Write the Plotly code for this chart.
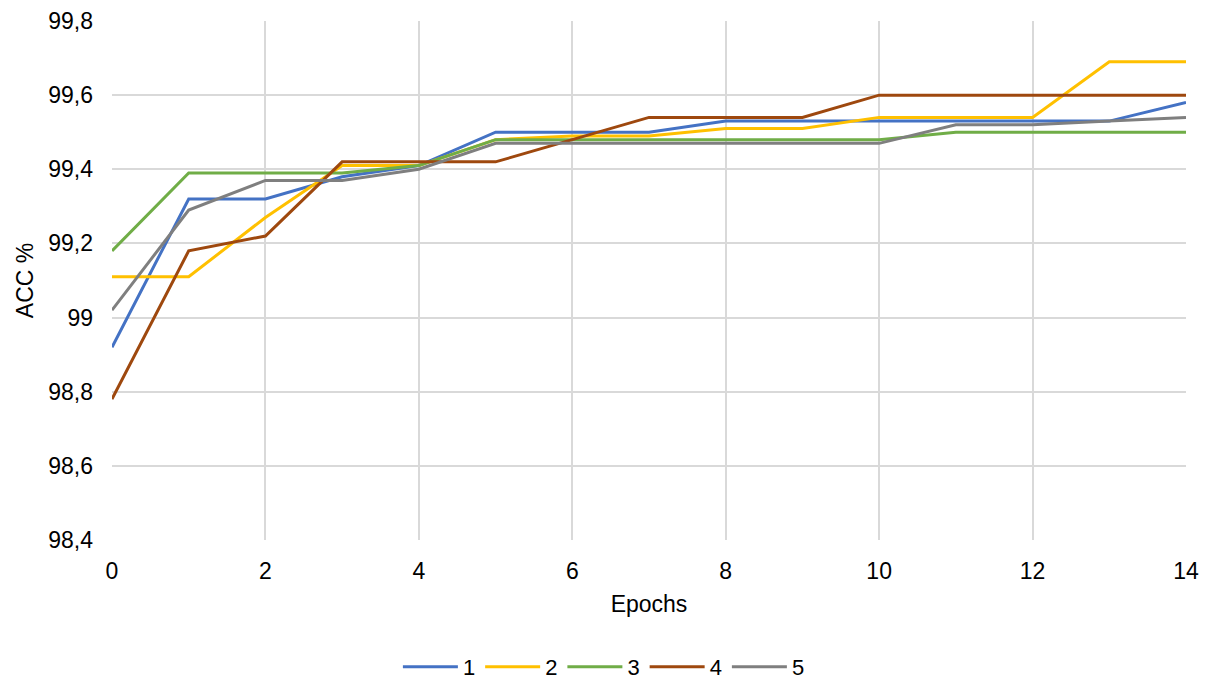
import plotly.graph_objects as go

epochs = list(range(15))

acc_1 = [98.92, 99.32, 99.32, 99.38, 99.41, 99.50, 99.50, 99.50, 99.53, 99.53, 99.53, 99.53, 99.53, 99.53, 99.58]
acc_2 = [99.11, 99.11, 99.27, 99.41, 99.41, 99.48, 99.49, 99.49, 99.51, 99.51, 99.54, 99.54, 99.54, 99.69, 99.69]
acc_3 = [99.18, 99.39, 99.39, 99.39, 99.41, 99.48, 99.48, 99.48, 99.48, 99.48, 99.48, 99.50, 99.50, 99.50, 99.50]
acc_4 = [98.78, 99.18, 99.22, 99.42, 99.42, 99.42, 99.48, 99.54, 99.54, 99.54, 99.60, 99.60, 99.60, 99.60, 99.60]
acc_5 = [99.02, 99.29, 99.37, 99.37, 99.40, 99.47, 99.47, 99.47, 99.47, 99.47, 99.47, 99.52, 99.52, 99.53, 99.54]

series_names = ["1", "2", "3", "4", "5"]
series_values = [acc_1, acc_2, acc_3, acc_4, acc_5]
series_colors = ["#4472C4", "#FFC000", "#70AD47", "#9E480E", "#7F7F7F"]

y_tickvals = [98.4, 98.6, 98.8, 99.0, 99.2, 99.4, 99.6, 99.8]
y_ticktext = ["98,4", "98,6", "98,8", "99", "99,2", "99,4", "99,6", "99,8"]
x_tickvals = [0, 2, 4, 6, 8, 10, 12, 14]

fig = go.Figure()
for name, vals, col in zip(series_names, series_values, series_colors):
    fig.add_trace(go.Scatter(
        x=epochs, y=vals, name=name, mode="lines",
        line=dict(color=col, width=3),
    ))

font_family = "Liberation Sans, Arial, sans-serif"
fig.update_layout(
    width=1206, height=682,
    margin=dict(l=112, r=20, t=21, b=142, autoexpand=False),
    paper_bgcolor="white", plot_bgcolor="white",
    font=dict(family=font_family, size=23, color="#000000"),
    separators=", ",
    legend=dict(
        orientation="h", x=0.458, xanchor="center",
        yref="container", y=0.022, yanchor="middle",
        font=dict(size=22), tracegroupgap=0, itemwidth=55,
    ),
    xaxis=dict(
        range=[0, 14], tickvals=x_tickvals,
        showgrid=True, gridcolor="#D9D9D9", gridwidth=1.5,
        zeroline=False, showline=False, ticks="",
        ticklabelstandoff=15,
        title=dict(text="Epochs", font=dict(size=23), standoff=12),
        tickfont=dict(size=23),
    ),
    yaxis=dict(
        range=[98.4, 99.8], tickvals=y_tickvals, ticktext=y_ticktext,
        showgrid=True, gridcolor="#D9D9D9", gridwidth=1.5,
        zeroline=False, showline=False, ticks="",
        ticklabelstandoff=18,
        title=dict(text="ACC %", font=dict(size=23), standoff=8),
        tickfont=dict(size=23),
    ),
)

fig.write_html("out.html")
